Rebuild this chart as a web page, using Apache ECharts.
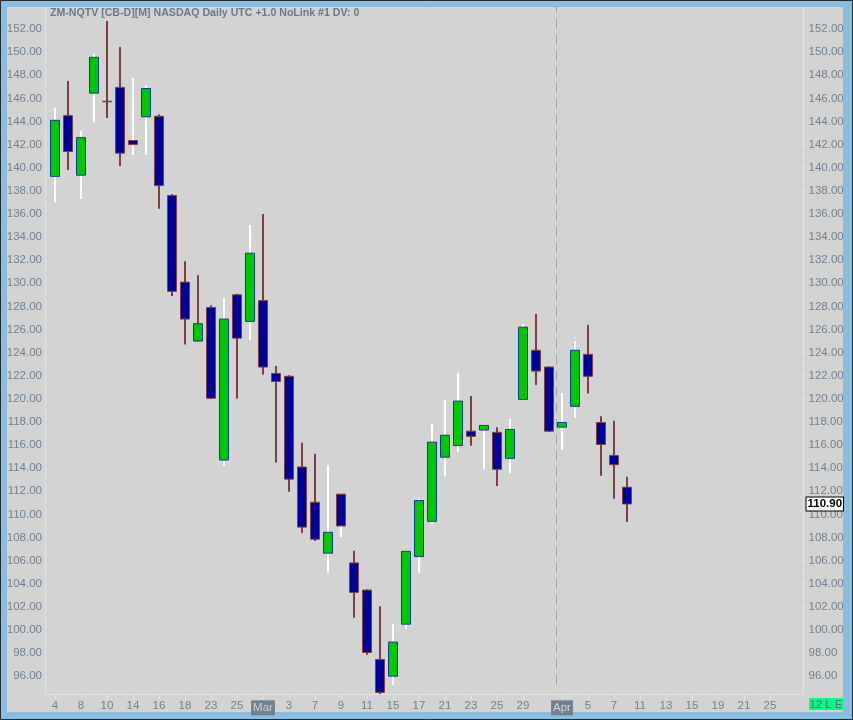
<!DOCTYPE html>
<html><head><meta charset="utf-8">
<script src="https://cdn.jsdelivr.net/npm/echarts@6.0.0/dist/echarts.min.js"></script>
<style>html,body{margin:0;padding:0;background:#8bbde0}#c{width:853px;height:720px}</style>
</head><body><div id="c"></div><script>
// ---- data ----
const categories = ['2022-02-04','2022-02-07','2022-02-08','2022-02-09','2022-02-10','2022-02-11','2022-02-14','2022-02-15','2022-02-16','2022-02-17','2022-02-18','2022-02-22','2022-02-23','2022-02-24','2022-02-25','2022-02-28',
'2022-03-01','2022-03-02','2022-03-03','2022-03-04','2022-03-07','2022-03-08','2022-03-09','2022-03-10','2022-03-11','2022-03-14','2022-03-15','2022-03-16','2022-03-17','2022-03-18','2022-03-21','2022-03-22','2022-03-23','2022-03-24','2022-03-25','2022-03-28','2022-03-29','2022-03-30','2022-03-31',
'2022-04-01','2022-04-04','2022-04-05','2022-04-06','2022-04-07','2022-04-08','2022-04-11','2022-04-12','2022-04-13','2022-04-14','2022-04-15','2022-04-18','2022-04-19','2022-04-20','2022-04-21','2022-04-22','2022-04-25','2022-04-26','2022-04-27'];
const xTickLabels = ['4','','8','','10','','14','','16','','18','','23','','25','',
'Mar','','3','','7','','9','','11','','15','','17','','21','','23','','25','','29','','',
'Apr','','5','','7','','11','','13','','15','','19','','21','','25','',''];
const opens  = [139.25,144.5,139.35,146.45,145.75,146.95,142.35,144.4,144.45,137.6,130.1,125.0,127.9,114.7,129.0,126.7,
128.5,122.2,121.95,114.1,111.05,106.65,111.75,105.8,103.45,97.45,96.0,100.5,106.35,109.4,114.95,115.95,117.2,117.3,117.1,114.85,119.95,124.2,122.75,
117.55,119.35,123.85,117.95,115.1,112.35];
const closes = [144.1,141.4,142.6,149.55,145.7,141.25,142.0,146.85,138.45,129.3,126.9,126.5,120.05,126.9,125.25,132.6,
122.75,121.5,113.05,108.9,107.85,108.45,109.0,103.25,98.05,94.6,98.95,106.8,111.2,116.25,116.85,119.8,116.75,117.7,113.9,117.35,126.2,122.4,117.2,
117.95,124.2,121.95,116.05,114.3,110.9];
const highs  = [145.2,147.5,143.2,149.85,152.7,150.45,147.75,147.15,144.6,137.7,131.9,130.7,128.1,128.7,129.1,135.05,
136.0,122.85,122.05,116.2,115.25,114.25,111.8,106.85,103.5,102.05,100.5,106.85,111.35,117.8,119.9,122.25,120.25,117.75,117.55,118.25,126.45,127.35,122.8,
120.5,125.0,126.4,118.5,118.1,113.25];
const lows   = [137.0,139.8,137.3,143.9,144.3,140.15,141.1,141.1,136.45,128.9,124.7,124.95,120.0,114.2,120.0,125.1,
122.1,114.5,111.95,108.4,107.7,104.95,108.05,101.05,97.85,94.45,95.25,100.1,104.95,109.15,113.3,115.4,115.95,113.9,112.45,113.55,119.95,121.2,117.15,
115.6,118.35,120.45,113.35,111.35,109.35];
const separatorDates = ['2022-04-01'];
const yMin = 94, yMax = 154, yStep = 2;
const chartTitle = 'ZM-NQTV [CB-D][M] NASDAQ Daily UTC +1.0 NoLink #1 DV: 0';
const statusText = '12 L E';

// ---- derived ----
const bodyData = opens.map((o, i) => [o, closes[i], Math.min(o, closes[i]), Math.max(o, closes[i])]);
const wickData = opens.map((o, i) => {
  const prev = i > 0 ? closes[i - 1] : o;
  return [i, lows[i], highs[i], closes[i] >= prev ? 1 : 0];
});
const sepData = separatorDates.map(d => [categories.indexOf(d)]);
const lastClose = closes[closes.length - 1];

const FONT = 'Liberation Sans';
const LABEL = '#708090';
const chart = echarts.init(document.getElementById('c'), null, {renderer: 'canvas'});
chart.setOption({
  animation: false,
  backgroundColor: '#8bbde0',
  textStyle: {fontFamily: FONT},
  title: {
    text: chartTitle, left: 50, top: 8, padding: 0,
    textStyle: {fontSize: 10.6, fontWeight: 'bold', color: '#687a89', fontFamily: FONT}
  },
  grid: {left: 48.5, right: 50.5, top: 5.886, bottom: 20.7, containLabel: false, outerBoundsMode: 'none'},
  xAxis: {
    type: 'category', data: categories, boundaryGap: true,
    axisLine: {show: false},
    axisTick: {show: true, alignWithLabel: true, inside: true, length: 5,
      interval: (i) => xTickLabels[i] !== '', lineStyle: {color: '#e6e6e6'}},
    axisLabel: {
      interval: (i) => xTickLabels[i] !== '', margin: 1, color: LABEL, fontSize: 11.5, fontFamily: FONT,
      formatter: (v, i) => { const t = xTickLabels[i]; return /^[A-Za-z]/.test(t) ? '{m|' + t + '}' : t; },
      rich: {m: {backgroundColor: '#708090', color: '#d3d3d3', fontSize: 11.5, padding: [2, 2, 1, 2], fontFamily: FONT}}
    },
    splitLine: {show: false}
  },
  yAxis: [
    {type: 'value', position: 'left', min: yMin, max: yMax, interval: yStep, scale: true,
     axisLine: {show: false}, axisTick: {show: false}, splitLine: {show: false},
     axisLabel: {showMinLabel: false, showMaxLabel: false, margin: 6.5, color: LABEL, fontSize: 11.5, fontFamily: FONT,
       formatter: (v) => v.toFixed(2)}},
    {type: 'value', position: 'right', min: yMin, max: yMax, interval: yStep, scale: true,
     axisLine: {show: false}, axisTick: {show: true, length: 3, lineStyle: {color: '#e6e6e6'}}, splitLine: {show: false},
     axisLabel: {showMinLabel: false, showMaxLabel: false, margin: 6, color: LABEL, fontSize: 11.5, fontFamily: FONT,
       formatter: (v) => v.toFixed(2)}}
  ],
  graphic: [
    {type: 'rect', z: -10, silent: true, shape: {x: 7, y: 7, width: 836, height: 705}, style: {fill: '#d3d3d3'}},
    {type: 'polyline', z: -5, silent: true, shape: {points: [[45.5, 7], [45.5, 694.5], [803.5, 694.5], [803.5, 7]]},
     style: {stroke: '#e2e2e2', lineWidth: 1, fill: null}},
    {type: 'rect', z: 100, silent: true, shape: {x: 0.5, y: 0.5, width: 852, height: 719}, style: {fill: null, stroke: '#1f2a35', lineWidth: 1}},
    {type: 'rect', z: 50, silent: true, shape: {x: 809, y: 698, width: 34, height: 12}, style: {fill: '#00ff80'}},
    {type: 'text', z: 51, silent: true, style: {text: statusText, x: 826, y: 704.5, align: 'center', verticalAlign: 'middle',
      fill: '#66668a', font: '11.5px "' + FONT + '"'}}
  ],
  series: [
    {
      type: 'custom', name: 'separator', z: 0, clip: true,
      data: sepData, encode: {x: 0},
      renderItem: (params, api) => {
        const cs = params.coordSys;
        const c = api.coord([api.value(0), yMax]);
        const half = api.size([1, 0])[0] / 2;
        const x = Math.round(c[0] - half) + 0.5;
        return {type: 'line', shape: {x1: x, y1: cs.y, x2: x, y2: cs.y + cs.height - 8},
          style: {stroke: '#a4a4a4', lineWidth: 1, lineDash: [10, 6], lineDashOffset: 3}};
      }
    },
    {
      type: 'custom', name: 'wicks', z: 1, clip: true,
      data: wickData, encode: {x: 0, y: [1, 2]},
      renderItem: (params, api) => {
        const x = api.value(0);
        const p1 = api.coord([x, api.value(2)]);
        const p2 = api.coord([x, api.value(1)]);
        return {type: 'line', shape: {x1: p1[0], y1: p1[1], x2: p2[0], y2: p2[1]},
          style: {stroke: api.value(3) ? '#ffffff' : '#7f3f3f', lineWidth: 2}};
      }
    },
    {
      type: 'candlestick', name: 'ZM', z: 3, barWidth: 9,
      data: bodyData,
      itemStyle: {color: '#00c800', color0: '#000099', borderColor: '#0a3c96', borderColor0: '#7f3f3f', borderWidth: 1},
      markLine: {
        silent: true, symbol: 'none', animation: false,
        lineStyle: {color: 'rgba(0,0,0,0)', width: 0},
        data: [{yAxis: lastClose}],
        label: {show: true, position: 'end', distance: 4, formatter: (p) => Number(p.value).toFixed(2),
          backgroundColor: '#ffffff', borderColor: '#000000', borderWidth: 1, color: '#000000',
          fontWeight: 'bold', fontSize: 11.5, padding: [1, 1, 0, 1], fontFamily: FONT}
      }
    }
  ]
});
</script></body></html>
